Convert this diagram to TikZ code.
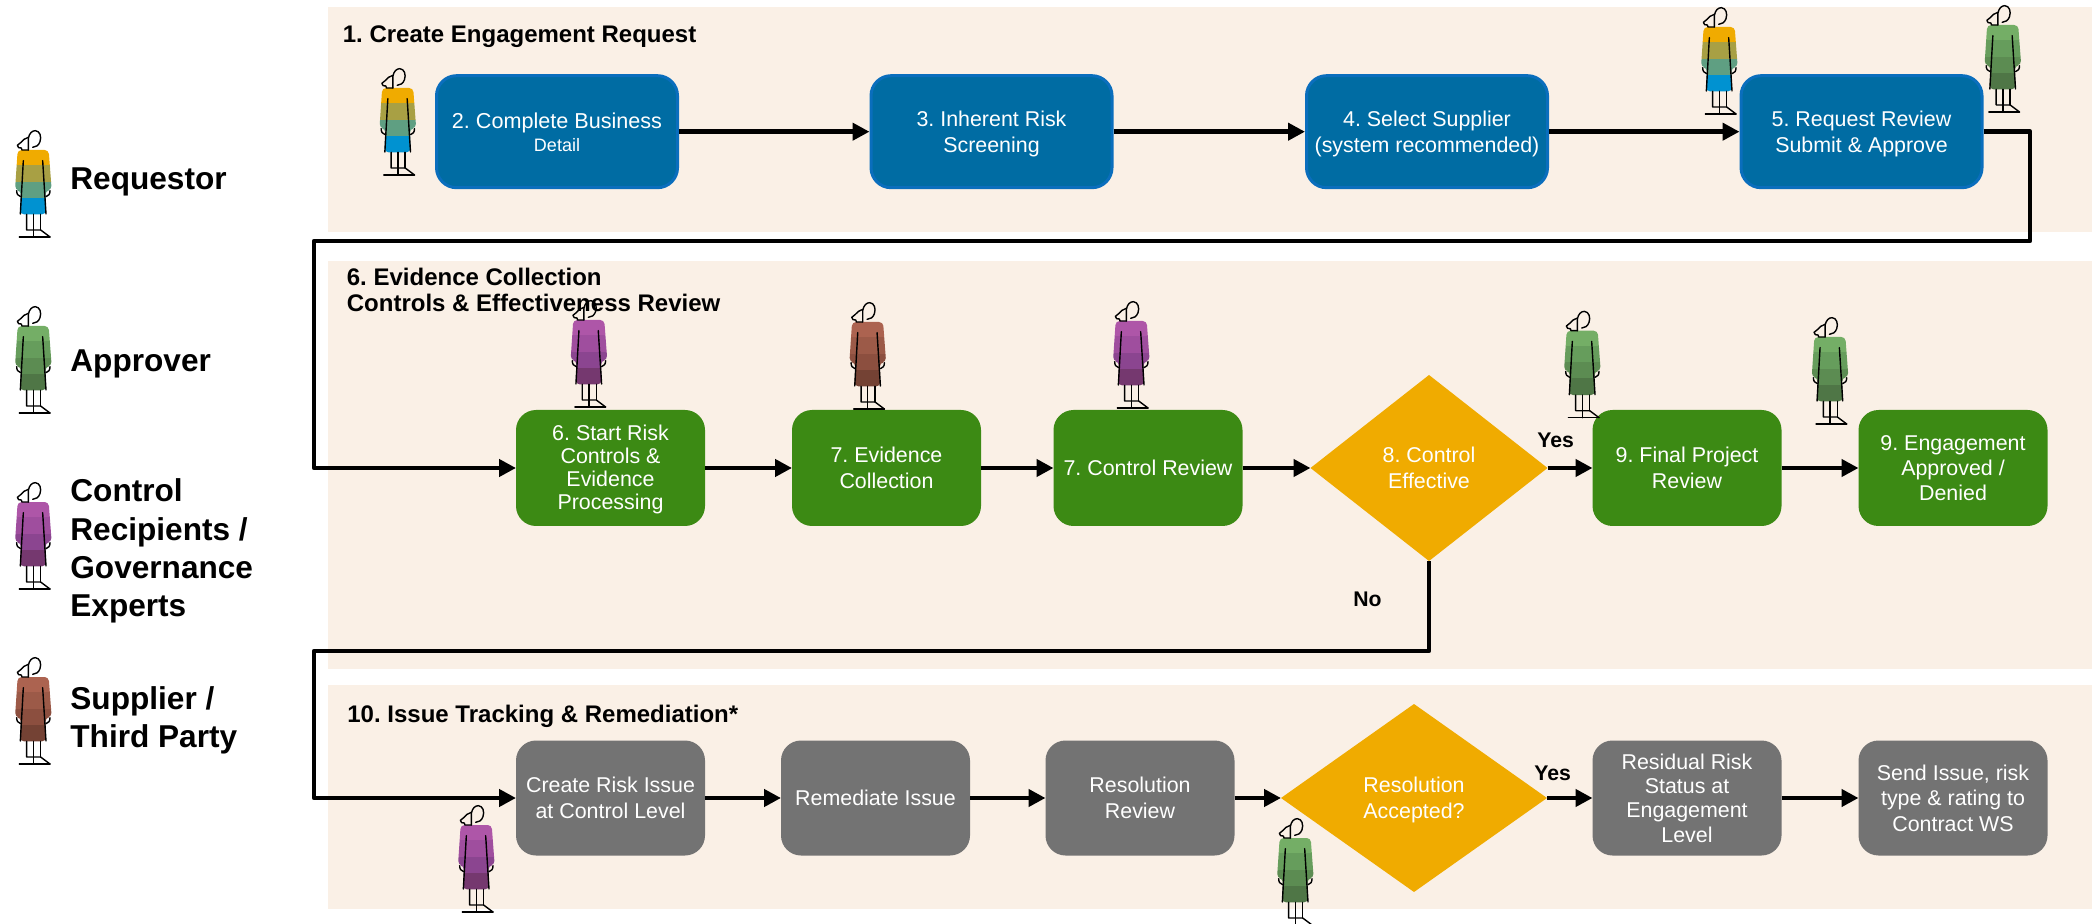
\documentclass[tikz,border=0pt]{standalone}
\usepackage{fontspec}
\setmainfont{Liberation Sans}
\usetikzlibrary{arrows.meta,shapes.geometric}
\AtBeginDocument{\frenchspacing}
\definecolor{band}{HTML}{FAF0E6}
\definecolor{bluefill}{HTML}{006CA3}
\definecolor{blueedge}{HTML}{0A6EBD}
\definecolor{greenfill}{HTML}{3C8A14}
\definecolor{grayfill}{HTML}{737373}
\definecolor{goldfill}{HTML}{F0AB00}
\definecolor{req1}{HTML}{F0AB00}\definecolor{req2}{HTML}{A8A044}\definecolor{req3}{HTML}{5F9F82}\definecolor{req4}{HTML}{0092D1}
\definecolor{app1}{HTML}{74AE66}\definecolor{app2}{HTML}{669D5C}\definecolor{app3}{HTML}{5C8C52}\definecolor{app4}{HTML}{4F7646}
\definecolor{gov1}{HTML}{AE56A8}\definecolor{gov2}{HTML}{9F4E9E}\definecolor{gov3}{HTML}{8B4590}\definecolor{gov4}{HTML}{75386F}
\definecolor{sup1}{HTML}{AC6350}\definecolor{sup2}{HTML}{9C5A48}\definecolor{sup3}{HTML}{8C4F3F}\definecolor{sup4}{HTML}{744234}
\newcommand{\personfig}[3]{%
\begin{scope}[shift={(#1,#2)},x=0.16667pt,y=-0.16667pt,line width=0.7pt,line cap=round,line join=round]
\begin{scope}
\clip[rounded corners=2pt] (53,120) -- (146,120) -- (155,240) -- (136,242) -- (138,313) -- (60,313) -- (63,242) -- (45,240) -- cycle;
\fill[#31] (40,115) rectangle (160,165);
\fill[#32] (40,165) rectangle (160,215);
\fill[#33] (40,215) rectangle (160,263);
\fill[#34] (40,263) rectangle (160,315);
\end{scope}
\draw (70,152) -- (61,312);
\draw (128,152) -- (138,312);
\draw (50,242) .. controls (50,252) and (54,258) .. (62,260);
\draw (150,242) .. controls (150,252) and (146,258) .. (138,260);
\draw (80,313) -- (80,360) -- (122,360) -- (150,381);
\draw (100,313) -- (100,381);
\draw (122,313) -- (122,360);
\draw (58,381) -- (150,381);
\draw (85,120) -- (85,85) .. controls (88,70) and (96,62) .. (106,62) .. controls (120,63) and (125,80) .. (120,95) .. controls (116,106) and (108,112) .. (98,112);
\draw (85,82) .. controls (75,85) and (68,90) .. (62,98) -- (52,106) -- (56,113) -- (64,114) -- (66,120) -- (85,120);
\end{scope}}
\tikzset{
  bandbox/.style={fill=band,draw=none,anchor=north west,inner sep=0pt,outer sep=0pt,rectangle},
  head/.style={font=\fontsize{12}{13}\selectfont\bfseries,anchor=base west,inner sep=0pt,align=left},
  legend/.style={font=\fontsize{15.8}{19.2}\selectfont\bfseries,anchor=base west,inner sep=0pt,align=left},
  yn/.style={font=\fontsize{10.6}{12}\selectfont\bfseries,anchor=base west,inner sep=0pt},
  boxbase/.style={rectangle,rounded corners=10pt,text=white,align=center,inner sep=0pt,font=\fontsize{10.7}{13}\selectfont,text depth=-1.3pt},
  bluebox/.style={boxbase,fill=bluefill,draw=blueedge,line width=1.5pt,minimum width=120.5pt,minimum height=56pt,outer sep=0.75pt,text depth=-1pt},
  greenbox/.style={boxbase,fill=greenfill,minimum width=94.5pt,minimum height=58pt,outer sep=0pt},
  graybox/.style={boxbase,fill=grayfill,minimum width=94.5pt,minimum height=57.5pt,outer sep=0pt},
  decide/.style={diamond,fill=goldfill,text=white,align=center,inner sep=0pt,outer sep=0pt,aspect=1.27,font=\fontsize{10.7}{13}\selectfont,text depth=-3.2pt},
  flow/.style={line width=2.4pt,line join=round,-{Triangle[length=8.5pt,width=8.5pt]}}
}
\begin{document}
\begin{tikzpicture}[x=0.5pt,y=-0.5pt]
\useasboundingbox (0,0) rectangle (2092,924);
\node[bandbox,minimum width=882pt,minimum height=112.5pt] (band1) at (328,7) {};
\node[bandbox,minimum width=882pt,minimum height=204pt] (band2) at (328,261) {};
\node[bandbox,minimum width=882pt,minimum height=112pt] (band3) at (328,685) {};
\node[head] (h1) at (342.5,43) {1. Create Engagement Request};
\node[head,anchor=north west] (h6) at (346.5,267.5) {6. Evidence Collection\\Controls \& Effectiveness Review};
\node[head] (h10) at (347,722) {10. Issue Tracking \& Remediation*};
\node[legend] (l1) at (70,189.5) {Requestor};
\node[legend] (l2) at (70,372) {Approver};
\node[legend,anchor=north west] (l3) at (70,478.5) {Control\\Recipients /\\Governance\\Experts};
\node[legend,anchor=north west] (l4) at (70,686) {Supplier /\\Third Party};
\node[bluebox] (b2) at (557,131.7) {\fontsize{10.8}{13}\selectfont 2. Complete Business\\[-1.5pt]\fontsize{9}{11}\selectfont Detail};
\node[bluebox] (b3) at (991.5,131.7) {3. Inherent Risk\\Screening};
\node[bluebox] (b4) at (1427,131.7) {4. Select Supplier\\(system recommended)};
\node[bluebox] (b5) at (1861.5,131.7) {5. Request Review\\Submit \& Approve};
\node[greenbox,text depth=1pt,font=\fontsize{10.7}{11.5}\selectfont] (g6) at (610.5,468) {6. Start Risk\\Controls \&\\Evidence\\Processing};
\node[greenbox] (g7) at (886.5,468) {7. Evidence\\Collection};
\node[greenbox] (g7b) at (1148,468) {7. Control Review};
\node[decide,text depth=-4.5pt,minimum width=118.5pt,minimum height=93pt] (d8) at (1429,468) {8. Control\\Effective};
\node[greenbox] (g9) at (1687,468) {9. Final Project\\Review};
\node[greenbox,font=\fontsize{10.7}{12.7}\selectfont] (g9b) at (1953,468) {9. Engagement\\Approved /\\Denied};
\node[graybox] (x1) at (610.5,798) {Create Risk Issue\\at Control Level};
\node[graybox] (x2) at (875.5,798) {Remediate Issue};
\node[graybox] (x3) at (1140,798) {Resolution\\Review};
\node[decide,minimum width=133pt,minimum height=94pt] (d10) at (1414,798) {Resolution\\Accepted?};
\node[graybox,text depth=0pt,font=\fontsize{10.7}{12.2}\selectfont] (x4) at (1687,798) {Residual Risk\\Status at\\Engagement\\Level};
\node[graybox,font=\fontsize{10.7}{12.7}\selectfont] (x5) at (1953,798) {Send Issue, risk\\type \& rating to\\Contract WS};
\coordinate (c1) at (2030,241);
\coordinate (c2) at (314,241);
\coordinate (c3) at (314,651);
\draw[flow] (b2.east) -- (b3.west);
\draw[flow] (b3.east) -- (b4.west);
\draw[flow] (b4.east) -- (b5.west);
\draw[flow] (b5.east) -| (c1) -- (c2) |- (g6.west);
\draw[flow] (g6.east) -- (g7.west);
\draw[flow] (g7.east) -- (g7b.west);
\draw[flow] (g7b.east) -- (d8.west);
\draw[flow] (d8.east) -- (g9.west);
\draw[flow] (g9.east) -- (g9b.west);
\draw[flow] (d8.south) |- (c3) |- (x1.west);
\draw[flow] (x1.east) -- (x2.west);
\draw[flow] (x2.east) -- (x3.west);
\draw[flow] (x3.east) -- (d10.west);
\draw[flow] (d10.east) -- (x4.west);
\draw[flow] (x4.east) -- (x5.west);
\node[yn] (y1) at (1537,448) {Yes};
\node[yn] (y2) at (1534,780) {Yes};
\node[yn] (n1) at (1353,606) {No};
\personfig{0}{110}{req}
\personfig{0}{286}{app}
\personfig{0}{462}{gov}
\personfig{0}{637}{sup}
\personfig{364.5}{48}{req}
\personfig{1686}{-13}{req}
\personfig{1969.5}{-15}{app}
\personfig{555.6}{280}{gov}
\personfig{834.4}{282}{sup}
\personfig{1098}{281}{gov}
\personfig{1549}{290.7}{app}
\personfig{1796.7}{297}{app}
\personfig{443}{785}{gov}
\personfig{1262}{798}{app}
\end{tikzpicture}
\end{document}
